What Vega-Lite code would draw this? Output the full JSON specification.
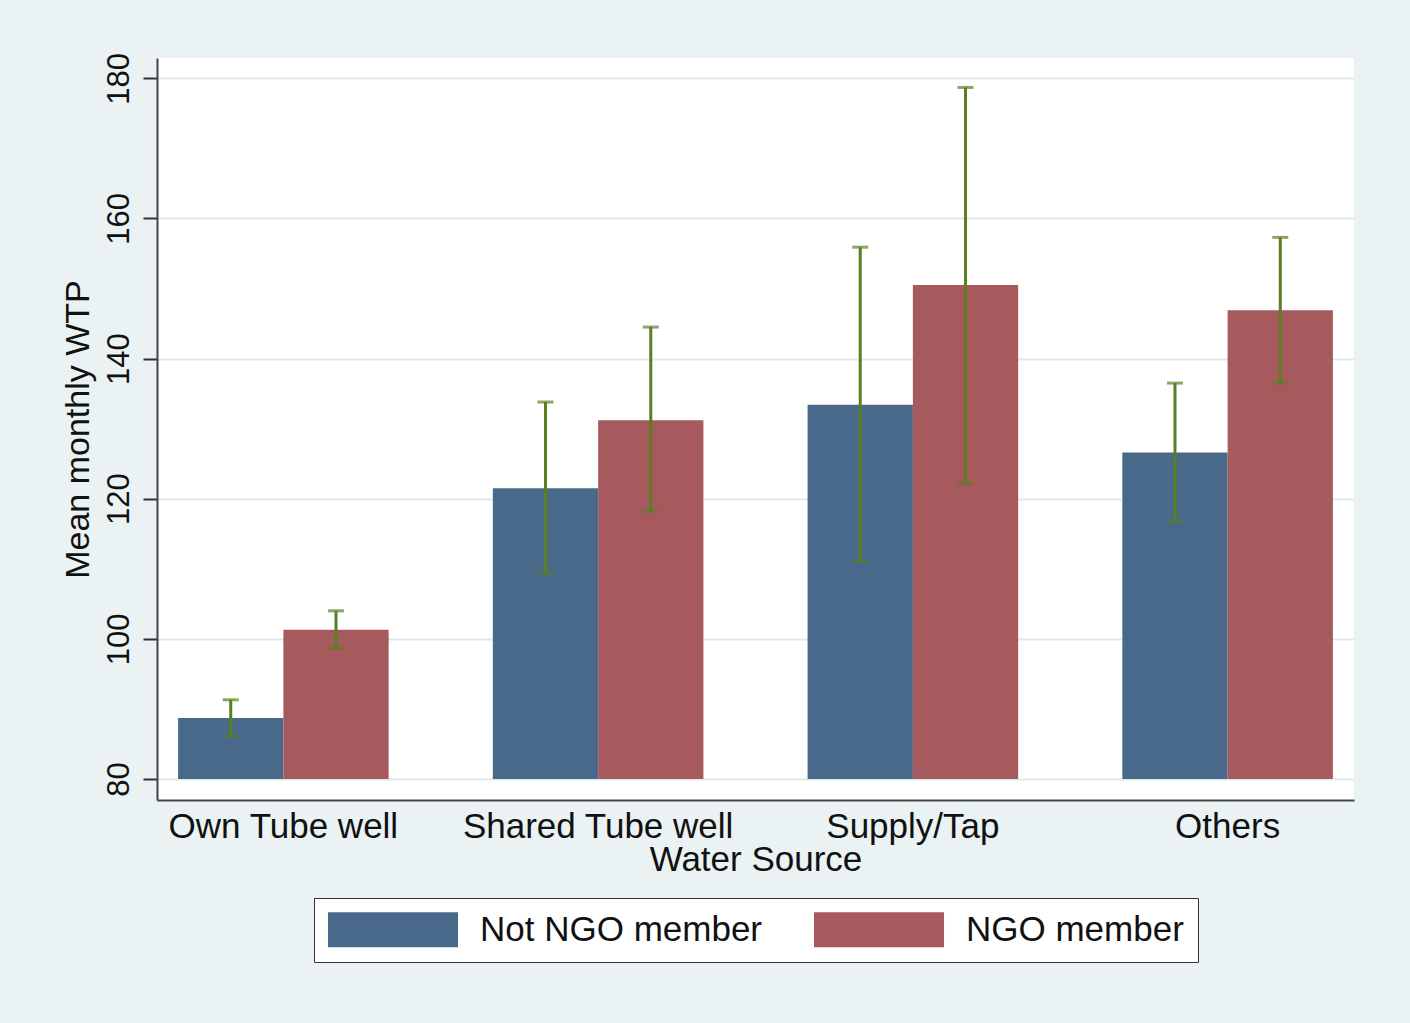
{
  "$schema": "https://vega.github.io/schema/vega-lite/v6.json",
  "width": 1197,
  "height": 742,
  "autosize": {"type": "none"},
  "padding": {"left": 157, "top": 58, "right": 56, "bottom": 223},
  "background": "#EAF2F3",
  "config": {
    "view": {"fill": "white", "stroke": null},
    "font": "Liberation Sans"
  },
  "data": {
    "values": [
      {"source": "Own Tube well", "group": "Not NGO member", "mean": 88.7, "lo": 86.1, "hi": 91.3},
      {"source": "Own Tube well", "group": "NGO member", "mean": 101.3, "lo": 98.7, "hi": 104.0},
      {"source": "Shared Tube well", "group": "Not NGO member", "mean": 121.5, "lo": 109.4, "hi": 133.8},
      {"source": "Shared Tube well", "group": "NGO member", "mean": 131.2, "lo": 118.2, "hi": 144.5},
      {"source": "Supply/Tap", "group": "Not NGO member", "mean": 133.4, "lo": 111.1, "hi": 155.9},
      {"source": "Supply/Tap", "group": "NGO member", "mean": 150.5, "lo": 122.2, "hi": 178.7},
      {"source": "Others", "group": "Not NGO member", "mean": 126.6, "lo": 116.8, "hi": 136.5},
      {"source": "Others", "group": "NGO member", "mean": 146.9, "lo": 136.5, "hi": 157.3}
    ]
  },
  "encoding": {
    "x": {
      "field": "source",
      "type": "nominal",
      "sort": ["Own Tube well", "Shared Tube well", "Supply/Tap", "Others"],
      "scale": {"paddingInner": 0.331, "paddingOuter": 0.067},
      "axis": {
        "title": "Water Source",
        "titleFontSize": 35,
        "titleFontWeight": "normal",
        "titleColor": "#111",
        "titlePadding": -2,
        "labelFontSize": 35,
        "labelColor": "#111",
        "labelAngle": 0,
        "labelPadding": 9,
        "labelLimit": 500,
        "ticks": false,
        "domainColor": "#444",
        "domainWidth": 2,
        "grid": false
      }
    },
    "xOffset": {
      "field": "group",
      "type": "nominal",
      "sort": ["Not NGO member", "NGO member"],
      "scale": {"paddingInner": 0, "paddingOuter": 0}
    }
  },
  "layer": [
    {
      "mark": {"type": "bar"},
      "encoding": {
        "y": {
          "field": "mean",
          "type": "quantitative",
          "scale": {"domain": [77, 182.9], "nice": false, "zero": false},
          "axis": {
            "title": "Mean monthly WTP",
            "titleFontSize": 34,
            "titleFontWeight": "normal",
            "titleColor": "#111",
            "titlePadding": 8,
            "values": [80, 100, 120, 140, 160, 180],
            "labelAngle": -90,
            "labelFontSize": 31,
            "labelColor": "#111",
            "labelPadding": 8,
            "tickSize": 14,
            "tickColor": "#333",
            "tickWidth": 2,
            "domainColor": "#444",
            "domainWidth": 2,
            "grid": true,
            "gridColor": "#DCEAEC",
            "gridWidth": 2
          }
        },
        "y2": {"datum": 80},
        "color": {
          "field": "group",
          "type": "nominal",
          "sort": ["Not NGO member", "NGO member"],
          "scale": {"domain": ["Not NGO member", "NGO member"], "range": ["#48698A", "#A65A5E"]},
          "legend": {
            "title": null,
            "orient": "none",
            "legendX": 157,
            "legendY": 840,
            "direction": "horizontal",
            "columns": 2,
            "strokeColor": "#333",
            "fillColor": "white",
            "padding": 14,
            "symbolType": "M-1,-1H6.43V1H-1Z",
            "symbolSize": 1225,
            "symbolStrokeWidth": 0,
            "symbolOpacity": 1,
            "labelFontSize": 35,
            "labelColor": "#111",
            "labelOffset": 117,
            "columnPadding": 52,
            "labelLimit": 500
          }
        }
      }
    },
    {
      "mark": {"type": "rule", "color": "#5A7F20", "strokeWidth": 3},
      "encoding": {
        "y": {"field": "lo", "type": "quantitative"},
        "y2": {"field": "hi"}
      }
    },
    {
      "mark": {"type": "tick", "orient": "horizontal", "size": 16, "thickness": 3, "color": "#5A7F20"},
      "encoding": {
        "y": {"field": "lo", "type": "quantitative"}
      }
    },
    {
      "mark": {"type": "tick", "orient": "horizontal", "size": 16, "thickness": 3, "color": "#5A7F20"},
      "encoding": {
        "y": {"field": "hi", "type": "quantitative"}
      }
    }
  ]
}
